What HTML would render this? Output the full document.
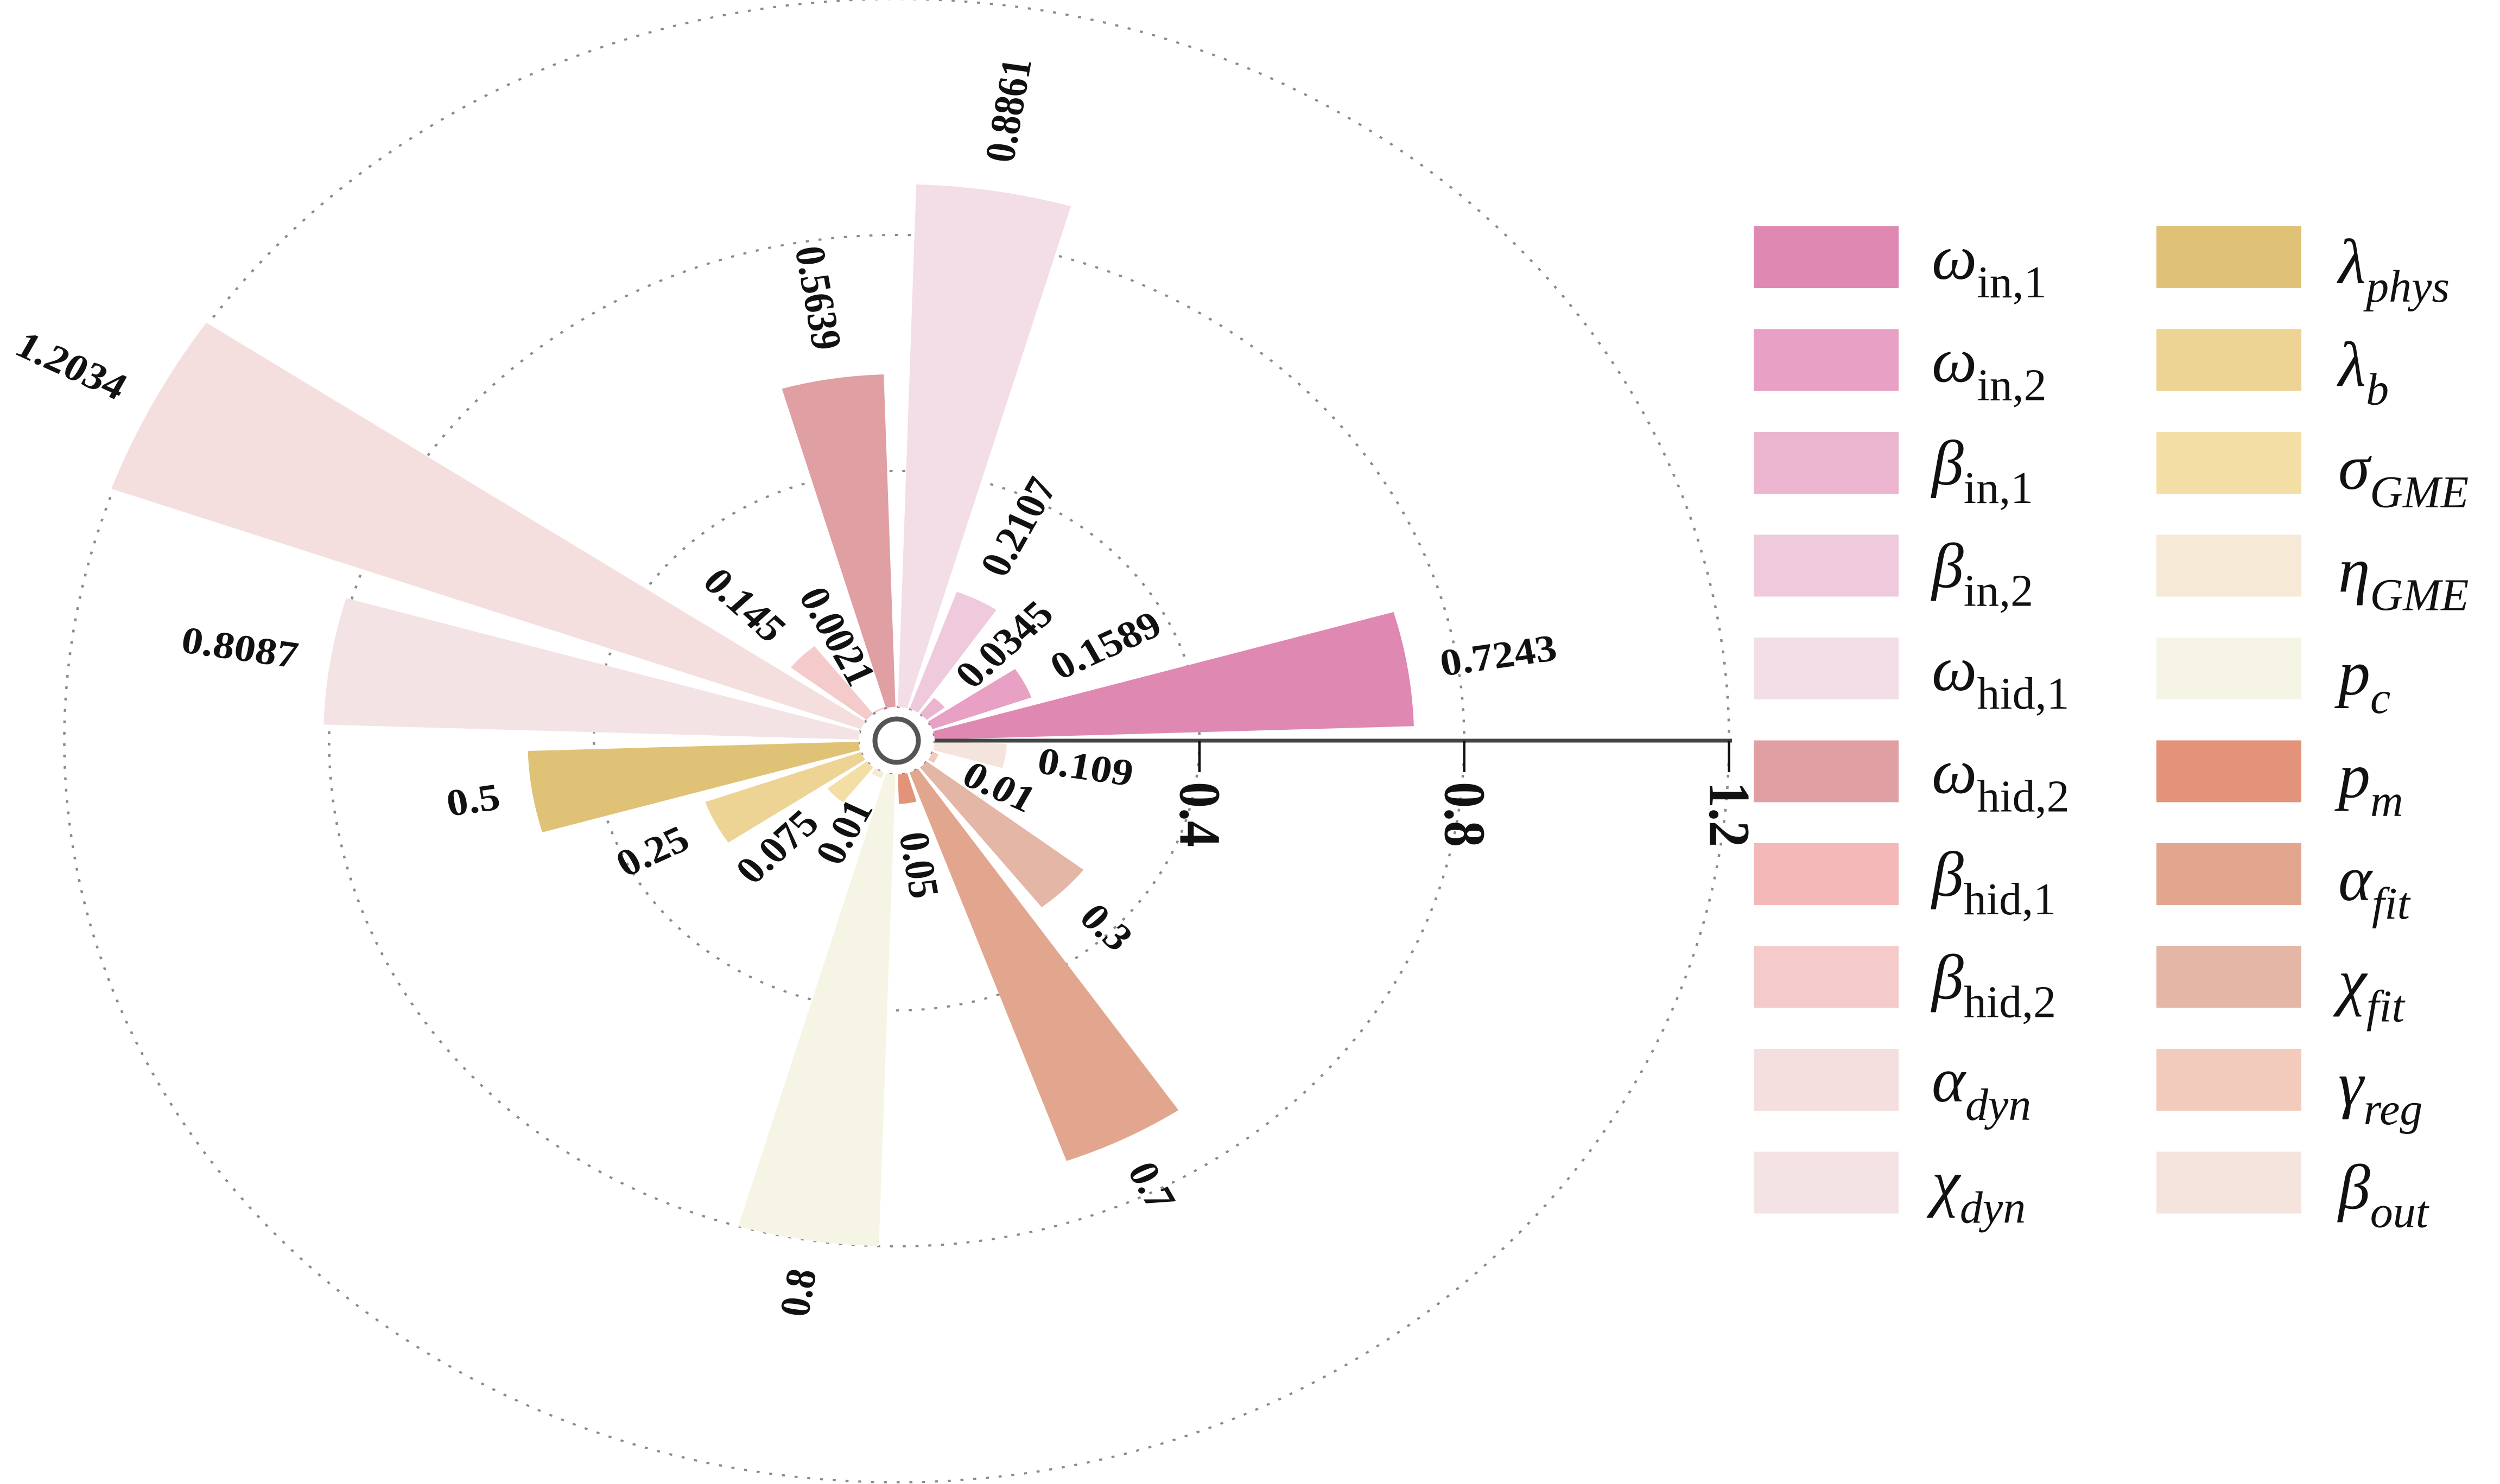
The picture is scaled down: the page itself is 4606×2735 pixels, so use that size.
<!DOCTYPE html>
<html><head><meta charset="utf-8"><style>
html,body{margin:0;padding:0;background:#fff;}
svg{display:block;}
.lab{font-family:"Liberation Serif",serif;font-weight:bold;font-size:70px;fill:#111;}
.tick{font-family:"Liberation Serif",serif;font-weight:bold;font-size:96px;fill:#111;}
.leg{font-family:"Liberation Serif",serif;font-style:italic;font-size:118px;fill:#111;}
.sub{font-size:84px;}
.up{font-style:normal;}
</style></head><body>
<svg id="chart" width="4606" height="2735" viewBox="0 0 4606 2735" xmlns="http://www.w3.org/2000/svg">
<g id="plot" transform="translate(1652,1365) scale(1.122,1)"></g>
<g id="legend"></g>
</svg>
<script>
const categories = ["ω_in,1","ω_in,2","β_in,1","β_in,2","ω_hid,1","ω_hid,2","β_hid,1","β_hid,2","α_dyn","χ_dyn","λ_phys","λ_b","σ_GME","η_GME","p_c","p_m","α_fit","χ_fit","γ_reg","β_out"];
const values = [0.7243,0.1589,0.0345,0.2107,0.8861,0.5639,0.0021,0.145,1.2034,0.8087,0.5,0.25,0.075,0.01,0.8,0.05,0.7,0.3,0.01,0.109];
const valueLabels = ["0.7243","0.1589","0.0345","0.2107","0.8861","0.5639","0.0021","0.145","1.2034","0.8087","0.5","0.25","0.075","0.01","0.8","0.05","0.7","0.3","0.01","0.109"];
const colors = ["#df88b1","#e8a0c4","#ebb5cf","#efc9dc","#f3dde6","#e09fa3","#f4b8b8","#f5caca","#f4dede","#f4e3e5","#e0c277","#edd394","#f3dfa5","#f6e9d6","#f6f4e4","#e2937a","#e2a68e","#e3b6a5","#f2cbbd","#f5e3dd"];
const legendSymbols = ["ω","ω","β","β","ω","ω","β","β","α","χ","λ","λ","σ","η","p","p","α","χ","γ","β"];
const legendSubs = ["in,1","in,2","in,1","in,2","hid,1","hid,2","hid,1","hid,2","dyn","dyn","phys","b","GME","GME","c","m","fit","fit","reg","out"];
const legendSubUpright = [true,true,true,true,true,true,true,true,false,false,false,false,false,false,false,false,false,false,false,false];
const radialTicks = [0.4,0.8,1.2];
const tickLabels = ["0.4","0.8","1.2"];
const gridValues = [0,0.4,0.8,1.2];

const NS="http://www.w3.org/2000/svg";
const K=1087, R0=0.0574, N=categories.length, SLOT=360/N, WIDTH=SLOT*0.8;
const rad=v=>(R0+v)*K;
const ang=i=>(i+0.5)*SLOT;
function pt(r,deg){const a=deg*Math.PI/180;return [r*Math.cos(a),-r*Math.sin(a)];}
const plot=document.getElementById('plot');
function mk(tag,attrs,parent){const e=document.createElementNS(NS,tag);for(const k in attrs)e.setAttribute(k,attrs[k]);parent.appendChild(e);return e;}

gridValues.forEach((g,i)=>{
  const c=mk('circle',{cx:0,cy:0,r:rad(g),fill:'none',stroke:'#8a8a8a','stroke-width':4,'stroke-dasharray':'5 16'},plot);
  
  
});

values.forEach((v,i)=>{
  const a0=ang(i)-WIDTH/2,a1=ang(i)+WIDTH/2,ri=rad(0),ro=rad(v);
  const p0=pt(ri,a0),p1=pt(ro,a0),p2=pt(ro,a1),p3=pt(ri,a1);
  const d=`M${p0[0]},${p0[1]} L${p1[0]},${p1[1]} A${ro},${ro} 0 0 0 ${p2[0]},${p2[1]} L${p3[0]},${p3[1]} A${ri},${ri} 0 0 1 ${p0[0]},${p0[1]} Z`;
  const b=mk('path',{d:d,fill:colors[i]},plot);
  
  
});

values.forEach((v,i)=>{
  const th=ang(i);
  const p=pt(rad(v+0.05),th);
  let rot=th, anchor='start';
  if(th>90&&th<270){rot=th-180;anchor='end';}
  const t=mk('text',{x:p[0],y:p[1],'text-anchor':anchor,'dominant-baseline':'central',class:'lab',transform:`rotate(${-rot},${p[0]},${p[1]})`},plot);
  t.textContent=valueLabels[i];
  
  
});

const ax=mk('line',{x1:rad(0),y1:0,x2:rad(1.2)+5,y2:0,stroke:'#444','stroke-width':7},plot);


radialTicks.forEach((tv,i)=>{
  const x=rad(tv);
  const tk=mk('line',{x1:x,y1:0,x2:x,y2:58,stroke:'#111','stroke-width':4},plot);
  
  
  const t=mk('text',{x:x,y:76,'dominant-baseline':'central','text-anchor':'start',class:'tick',transform:`rotate(90,${x},76)`},plot);
  t.textContent=tickLabels[i];
  
  
});

const svg=document.getElementById('chart');
const ring=mk('circle',{cx:1652,cy:1365,r:40,fill:'#fff',stroke:'#555','stroke-width':9},svg);



const leg=document.getElementById('legend');
categories.forEach((c,i)=>{
  const col=Math.floor(i/10), row=i%10;
  const sx=col?3973:3231, cy=474+row*189.5;
  const r=mk('rect',{x:sx,y:cy-57,width:267,height:114,fill:colors[i]},leg);
  
  
  const tx=col?4308:3559;
  const t=mk('text',{x:tx,y:cy+40+(col?8:0),class:'leg'},leg);
  
  
  const s1=document.createElementNS(NS,'tspan');s1.textContent=legendSymbols[i];t.appendChild(s1);
  const s2=document.createElementNS(NS,'tspan');s2.textContent=legendSubs[i];
  s2.setAttribute('class','sub'+(legendSubUpright[i]?' up':''));
  s2.setAttribute('dy','34');
  t.appendChild(s2);
});
</script>
</body></html>
